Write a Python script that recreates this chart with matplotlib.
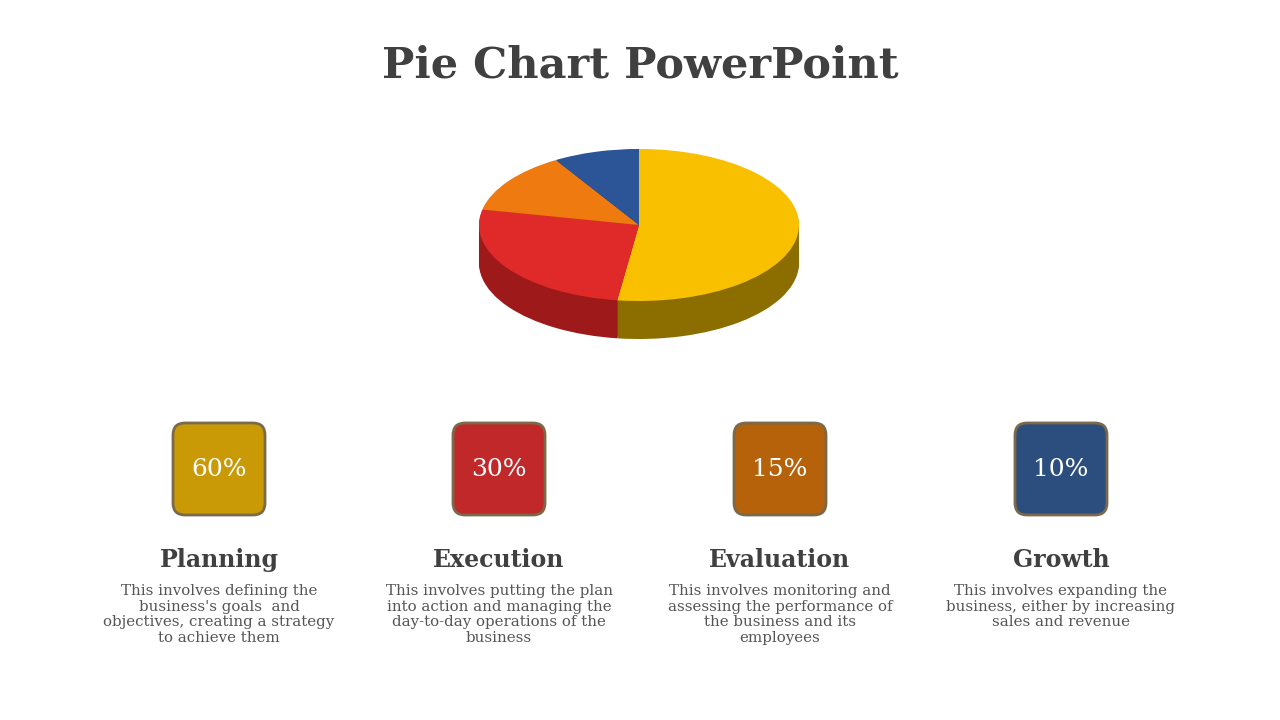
import matplotlib
matplotlib.use("Agg")
import matplotlib.pyplot as plt
from matplotlib.patches import FancyBboxPatch
import numpy as np

TITLE = "Pie Chart PowerPoint"
CATEGORIES = ["Planning", "Execution", "Evaluation", "Growth"]
VALUES = [60, 30, 15, 10]
LABELS = ["60%", "30%", "15%", "10%"]
DESCRIPTIONS = [
    "This involves defining the\nbusiness's goals  and\nobjectives, creating a strategy\nto achieve them",
    "This involves putting the plan\ninto action and managing the\nday-to-day operations of the\nbusiness",
    "This involves monitoring and\nassessing the performance of\nthe business and its\nemployees",
    "This involves expanding the\nbusiness, either by increasing\nsales and revenue",
]
TOP_COLORS = ["#F9C000", "#E02A2A", "#EE7A10", "#2B5597"]
SIDE_COLORS = ["#8C6E00", "#9E1A1A", "#A85208", "#1C3A6A"]
BOX_COLORS = ["#C99A06", "#C0282A", "#B5620A", "#2B4E7E"]
SERIF = "DejaVu Serif"
W, H = 1280, 720

fig = plt.figure(figsize=(12.8, 7.2), dpi=100)
bg = fig.add_axes([0, 0, 1, 1])
bg.set_xlim(0, W); bg.set_ylim(H, 0); bg.axis("off")

bg.text(640, 66, TITLE, ha="center", va="center", fontsize=31,
        fontweight="bold", family=SERIF, color="#404040")

# pseudo-3D pie: stacked squashed pies
pax = fig.add_axes([459 / W, 1 - 360 / H, 360 / W, 220 / H])
for dy in np.linspace(-0.5, -0.02, 25):
    pax.pie(VALUES, colors=SIDE_COLORS, startangle=90, counterclock=False,
            center=(0, dy), radius=1.0)
pax.pie(VALUES, colors=TOP_COLORS, startangle=90, counterclock=False,
        center=(0, 0), radius=1.0)
pax.set_aspect("auto")
pax.set_xlim(-1.125, 1.125)
pax.set_ylim(-1.776, 1.118)
pax.axis("off")

xs = [219, 499, 780, 1061]
for x, lab, cat, desc, c in zip(xs, LABELS, CATEGORIES, DESCRIPTIONS, BOX_COLORS):
    s = 92
    bg.add_patch(FancyBboxPatch((x - s / 2, 469 - s / 2), s, s,
                                boxstyle="round,pad=0,rounding_size=12",
                                fc=c, ec="#7a6a4a", lw=2))
    bg.text(x, 469, lab, ha="center", va="center", fontsize=18,
            family=SERIF, color="white")
    bg.text(x, 560, cat, ha="center", va="center", fontsize=17,
            fontweight="bold", family=SERIF, color="#404040")
    bg.text(x, 584, desc, ha="center", va="top", fontsize=10.8,
            family=SERIF, color="#555555", linespacing=1.15)

fig.savefig("out.png", dpi=100)
